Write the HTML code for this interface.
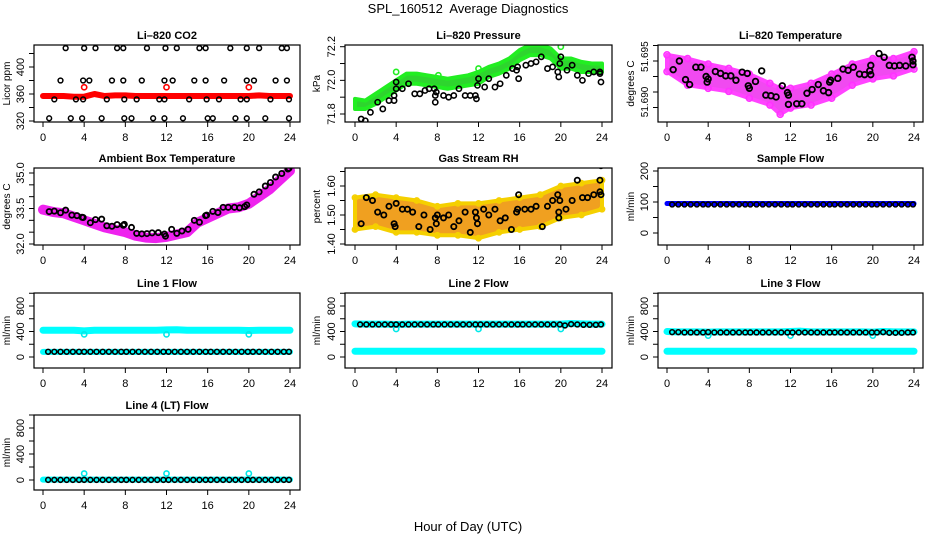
<!DOCTYPE html>
<html><head><meta charset="utf-8">
<style>
html,body{margin:0;padding:0;background:#fff;}
svg{display:block;font-family:"Liberation Sans",sans-serif;}
</style></head>
<body>
<svg id="c" width="936" height="540" viewBox="0 0 936 540" xmlns="http://www.w3.org/2000/svg">
<text x="468" y="13" text-anchor="middle" font-size="13">SPL_160512&#160; Average Diagnostics</text>
<text x="468" y="531" text-anchor="middle" font-size="13">Hour of Day (UTC)</text>
</svg>
<script>
// ---------- data ----------
const xTicks=[0,4,8,12,16,20,24];
// CO2
const co2RedHours=[0,1,2,3,4,5,6,7,8,9,10,11,12,13,14,15,16,17,18,19,20,21,22,23,24];
const co2Red=[357,357,357,356,356,360,357,358,358,357,357,357,357,357,357,357,357,357,357,357,357,358,357,357,357];
const co2RedOutHours=[4,12,20];
const co2RedOut=[370,370,370];
const co2Hours=[2.2,4.0,5.1,7.2,7.8,10.1,11.9,13.0,15.2,15.8,18.2,19.8,21.0,23.2,23.7,
1.7,3.9,4.5,6.7,7.8,9.6,11.8,12.6,14.7,15.8,17.6,19.8,20.5,22.6,23.7,
1.1,3.2,3.9,6.2,7.9,9.1,11.3,11.8,14.2,15.9,17.1,19.2,19.8,22.1,23.9,
0.6,2.7,3.8,5.7,7.9,8.6,10.7,11.8,13.6,16.0,16.5,18.7,19.8,21.6,23.9];
const co2Vals=[428,428,428,428,428,428,428,428,428,428,428,428,428,428,428,
380,380,380,380,380,380,380,380,380,380,380,380,380,380,380,
352,352,352,352,352,352,352,352,352,352,352,352,352,352,352,
324,324,324,324,324,324,324,324,324,324,324,324,324,324,324];
// Pressure
const presBandHours=[0,1,2,3,4,5,6,7,8,9,10,11,12,13,14,15,16,17,18,19,20,21,22,23,24];
const presLo=[71.83,71.83,71.86,71.90,71.94,71.98,71.98,71.97,71.96,71.95,71.96,71.97,71.98,72.02,72.04,72.07,72.12,72.15,72.15,72.13,72.07,72.07,72.05,72.05,72.05];
const presHi=[71.89,71.88,71.92,71.96,72.00,72.04,72.04,72.03,72.02,72.01,72.02,72.03,72.05,72.08,72.10,72.13,72.18,72.21,72.21,72.19,72.13,72.13,72.11,72.10,72.10];
const presOutHours=[4,8.1,12,20];
const presOut=[72.05,72.03,72.07,72.2];
const presHours=[0.6,1.0,1.5,2.2,2.7,3.3,3.8,3.8,4.0,4.0,4.6,5.2,5.8,6.3,6.8,7.2,7.7,7.8,7.8,7.9,8.6,9.1,9.6,10.1,10.7,11.2,11.7,11.8,11.9,12.0,12.6,13.0,13.6,14.1,14.7,15.3,15.7,15.8,15.9,16.6,17.1,17.6,18.1,18.7,19.2,19.7,19.8,19.9,20.0,20.6,21.1,21.6,22.1,22.7,23.2,23.8,23.8,23.9];
const presVals=[71.77,71.76,71.81,71.87,71.83,71.88,71.88,71.91,71.95,71.99,71.95,71.98,71.92,71.92,71.94,71.95,71.95,71.87,71.91,71.93,71.91,71.90,71.91,71.95,71.91,71.91,71.91,71.89,71.97,72.01,71.96,72.01,71.96,71.98,72.03,72.07,72.06,72.08,72.01,72.09,72.10,72.11,72.14,72.07,72.08,72.05,72.02,72.10,72.14,72.06,72.09,72.03,72.00,72.04,72.05,72.04,72.05,71.99];
// Li-820 temperature
const tempBandHours=[0,2,4,6,8,10,11,12,14,16,18,20,22,24];
const tempHi=[51.6960,51.6954,51.6945,51.6938,51.6929,51.6914,51.6906,51.6906,51.6914,51.6929,51.6945,51.6954,51.6954,51.6965];
const tempLo=[51.6933,51.6911,51.6906,51.6901,51.6890,51.6879,51.6864,51.6874,51.6879,51.6890,51.6911,51.6921,51.6926,51.6937];
const tempHours=[0.6,1.2,1.8,2.2,2.8,3.3,3.8,3.9,4.0,4.7,5.2,5.7,6.2,6.7,7.3,7.8,7.9,8.0,8.6,9.2,9.6,10.1,10.6,11.2,11.7,11.8,11.8,12.6,13.1,13.6,14.1,14.7,15.2,15.7,15.8,15.9,16.6,17.1,17.6,18.1,18.7,19.2,19.7,19.8,19.8,20.6,21.1,21.6,22.1,22.6,23.2,23.8,23.9,23.9];
const tempVals=[51.6936,51.6950,51.6920,51.6912,51.6940,51.6940,51.6925,51.6916,51.6921,51.6933,51.6930,51.6926,51.6926,51.6919,51.6932,51.6930,51.6910,51.6906,51.6917,51.6934,51.6895,51.6894,51.6892,51.6910,51.6899,51.6895,51.6880,51.6881,51.6881,51.6898,51.6904,51.6912,51.6902,51.6899,51.6916,51.6919,51.6922,51.6937,51.6935,51.6940,51.6929,51.6928,51.6934,51.6928,51.6943,51.6962,51.6956,51.6943,51.6942,51.6943,51.6942,51.6956,51.6944,51.6950];
// Ambient box temperature
const ambHoursBand=[0,1,2,3,4,5,6,7,8,9,10,11,12,13,14,15,16,17,18,19,20,21,22,23,24];
const ambMid=[33.45,33.35,33.3,33.15,33.0,32.85,32.7,32.6,32.5,32.35,32.27,32.25,32.3,32.4,32.5,32.9,33.1,33.3,33.5,33.55,33.7,34.0,34.3,34.7,35.1];
const ambHours=[0.6,1.1,1.7,2.2,2.8,3.3,3.8,3.9,4.6,5.1,5.7,6.2,6.7,7.2,7.8,7.9,8.6,9.1,9.6,10.1,10.6,11.2,11.8,11.9,12.5,13.0,13.5,14.1,14.7,15.2,15.8,15.9,16.5,17.0,17.5,18.0,18.6,19.1,19.6,19.8,20.5,21.0,21.6,22.1,22.6,23.2,23.8,23.9];
const ambVals=[33.37,33.39,33.32,33.43,33.22,33.2,33.13,33.12,32.9,33.03,33.05,32.77,32.75,32.82,32.79,32.83,32.7,32.45,32.43,32.44,32.47,32.48,32.42,32.33,32.62,32.45,32.55,32.62,33.0,32.92,33.2,33.22,33.38,33.33,33.55,33.55,33.55,33.53,33.58,33.65,34.1,34.2,34.45,34.6,34.83,34.98,35.17,35.2];
// RH
const rhBandHours=[0,2,4,6,8,10,12,14,16,18,20,22,24];
const rhLo=[1.45,1.46,1.44,1.44,1.43,1.43,1.42,1.44,1.45,1.46,1.49,1.50,1.52];
const rhHi=[1.56,1.57,1.56,1.55,1.53,1.54,1.54,1.55,1.56,1.57,1.60,1.61,1.62];
const rhHours=[0.6,1.1,1.7,2.2,2.8,3.3,3.8,3.9,4.0,4.6,5.1,5.6,6.2,6.7,7.3,7.8,7.9,8.0,8.6,9.1,9.6,10.1,10.7,11.2,11.7,11.8,11.9,12.5,13.0,13.6,14.1,14.6,15.2,15.7,15.8,15.9,16.5,17.1,17.6,18.2,18.7,19.2,19.7,19.8,19.8,19.9,20.5,21.1,21.6,22.1,22.6,23.2,23.8,23.8,23.9,23.9];
const rhVals=[1.47,1.56,1.55,1.51,1.50,1.53,1.47,1.46,1.54,1.52,1.52,1.51,1.46,1.50,1.45,1.49,1.47,1.50,1.49,1.50,1.46,1.48,1.51,1.44,1.51,1.49,1.47,1.52,1.50,1.52,1.48,1.49,1.45,1.51,1.52,1.57,1.52,1.52,1.53,1.46,1.53,1.55,1.57,1.51,1.49,1.55,1.52,1.55,1.62,1.56,1.56,1.57,1.62,1.58,1.57,1.67];
// Flows
const flowBandHours=[0,1,2,3,4,5,6,7,8,9,10,11,12,13,14,15,16,17,18,19,20,21,22,23,24];
const sampleBlue=[95,95,95,95,95,95,95,95,95,95,95,95,95,95,95,95,95,95,95,95,95,95,95,95,95];
const l1CyanHi=[420,420,420,420,410,420,420,420,420,420,420,420,425,428,420,420,420,420,420,420,415,420,420,420,420];
const l1CyanLo=[80,80,80,80,80,80,80,80,80,80,80,80,80,80,80,80,80,80,80,80,80,80,80,80,80];
const l2CyanHi=[520,515,515,515,510,515,515,515,515,515,515,515,515,515,515,515,515,515,515,515,515,525,520,515,515];
const l2CyanLo=[90,90,90,90,90,90,90,90,90,90,90,90,90,90,90,90,90,90,90,90,90,90,90,90,90];
const l3CyanHi=[400,395,395,395,390,395,395,395,395,395,395,395,400,405,395,395,395,395,395,395,390,400,395,395,395];
const l3CyanLo=[90,90,90,90,90,90,90,90,90,90,90,90,90,90,90,90,90,90,90,90,90,90,90,90,90];
const l4Cyan=[5,5,5,5,5,5,5,5,5,5,5,5,5,5,5,5,5,5,5,5,5,5,5,5,5];
const dipHours=[4,12,20];
const l1Dips=[355,355,355];
const l2Dips=[440,440,440];
const l3Dips=[335,335,335];
const l4Spikes=[100,100,100];
const flowHours=[0.5,1.1,1.7,2.3,2.9,3.5,4.0,4.6,5.2,5.8,6.4,7.0,7.6,8.1,8.7,9.3,9.9,10.5,11.1,11.7,12.2,12.8,13.4,14.0,14.6,15.2,15.8,16.3,16.9,17.5,18.1,18.7,19.3,19.9,20.4,21.0,21.6,22.2,22.8,23.4,23.9];
const sampleBlack=[92,92,92,92,92,92,92,92,92,92,92,92,92,92,92,92,92,92,92,92,92,92,92,92,92,92,92,92,92,92,92,92,92,92,92,92,92,92,92,92,92];
const l1Black=[82,82,82,82,82,82,82,82,82,82,82,82,82,82,82,82,82,82,82,82,82,82,82,82,82,82,82,82,82,82,82,82,82,82,82,82,82,82,82,82,82];
const l2Black=[510,510,510,510,510,510,510,510,510,510,510,510,510,510,510,510,510,510,510,510,510,510,510,510,510,510,510,510,510,510,510,510,510,510,495,515,510,505,505,505,510];
const l3Black=[390,390,385,385,385,385,390,385,385,385,385,385,385,385,385,385,385,385,385,385,385,385,385,385,385,385,385,385,385,385,385,385,385,385,385,390,380,380,380,385,385];
const l4Black=[2,2,2,2,2,2,2,2,2,2,2,2,2,2,2,2,2,2,2,2,2,2,2,2,2,2,2,2,2,2,2,2,2,2,2,2,2,2,2,2,2];

// ---------- layout ----------
const NS='http://www.w3.org/2000/svg';
const svg=document.getElementById('c');
const COLS=[{x0:43,x1:290,bl:34,br:300,lab:10},{x0:355,x1:602,bl:345,br:612,lab:320},{x0:667,x1:914,bl:658,br:923,lab:634}];
const ROWS=[{t:45,b:122},{t:168,b:245},{t:293,b:368},{t:415,b:490}];
function el(tag,attrs,parent){const e=document.createElementNS(NS,tag);for(const k in attrs)e.setAttribute(k,attrs[k]);(parent||svg).appendChild(e);return e;}
function lin(v1,p1,v2,p2){return v=>p1+(v-v1)*(p2-p1)/(v2-v1);}

function panel(name,ci,ri,title,ylab,ys,yticks,ylabels,lfs){
  const C=COLS[ci],R=ROWS[ri];
  const g=el('g',{});
  
  
  const xs=h=>C.x0+h/24*(C.x1-C.x0);
  const clip=el('clipPath',{id:'cl'+name},g);
  el('rect',{x:C.bl,y:R.t,width:C.br-C.bl,height:R.b-R.t},clip);
  const plot=el('g',{'clip-path':'url(#cl'+name+')'},g);
  
  
  const box=el('rect',{x:C.bl,y:R.t,width:C.br-C.bl,height:R.b-R.t,fill:'none',stroke:'#000','stroke-width':1.2},g);
  
  
  const t=el('text',{x:(C.bl+C.br)/2,y:R.t-6,'text-anchor':'middle','font-size':11,'font-weight':'bold'},g);
  t.textContent=title;
  
  
  const yl=el('text',{x:C.lab,y:(R.t+R.b)/2,'text-anchor':'middle','font-size':10,transform:`rotate(-90 ${C.lab} ${(R.t+R.b)/2})`},g);
  yl.textContent=ylab;
  
  
  xTicks.forEach(h=>{
    const x=xs(h);
    el('line',{x1:x,x2:x,y1:R.b,y2:R.b+5,stroke:'#000'},g);
    const tl=el('text',{x:x,y:R.b+19,'text-anchor':'middle','font-size':11},g);
    tl.textContent=h;
    
    
  });
  yticks.forEach(v=>{const y=ys(v);el('line',{x1:C.bl-5,x2:C.bl,y1:y,y2:y,stroke:'#000'},g);});
  ylabels.forEach(v=>{
    const y=ys(typeof v==='object'?v.v:v),lx=C.bl-10;
    const tl=el('text',{x:lx,y:y,'text-anchor':'middle','font-size':lfs||11,transform:`rotate(-90 ${lx} ${y})`},g);
    tl.textContent=typeof v==='object'?v.t:v;
    
    
  });
  return {g:plot,xs,ys};
}
function pts(P,hours,vals,color,name,r,sw){
  hours.forEach((h,i)=>{
    const c=el('circle',{cx:P.xs(h),cy:P.ys(vals[i]),r:r||2.6,fill:'none',stroke:color,'stroke-width':sw||1.6},P.g);
    
    
  });
}
function band(P,hours,lo,hi,fill,stroke,name){
  let d='M'+hours.map((h,i)=>P.xs(h)+','+P.ys(hi[i])).join('L')+'L'+hours.slice().reverse().map((h,j)=>{const i=hours.length-1-j;return P.xs(h)+','+P.ys(lo[i]);}).join('L')+'Z';
  const p=el('path',{d,fill,stroke,'stroke-width':4,'stroke-linejoin':'round'},P.g);
  
  
}
function thick(P,hours,vals,color,w,name){
  const p=el('polyline',{points:hours.map((h,i)=>P.xs(h)+','+P.ys(vals[i])).join(' '),fill:'none',stroke:color,'stroke-width':w,'stroke-linecap':'round','stroke-linejoin':'round'},P.g);
  
  
}

// CO2
let P=panel('co2',0,0,'Li–820 CO2','Licor ppm',lin(400,67,360,94),[320,340,360,380,400,420],[320,360,400]);
thick(P,co2RedHours,co2Red,'#f00',6,'co2-raw-line');
pts(P,co2RedOutHours,co2RedOut,'#f00','co2-raw-outlier');
pts(P,co2Hours,co2Vals,'#000','co2-average-point',2.4,1.5);
// Pressure
P=panel('pressure',1,0,'Li–820 Pressure','kPa',lin(72.2,46.7,71.8,114),[71.8,71.9,72.0,72.1,72.2],[71.8,{v:72,t:'72.0'},72.2]);
band(P,presBandHours,presLo,presHi,'#2ed52e','#22ee22','pressure-raw-band');
pts(P,presOutHours,presOut,'#22ee22','pressure-raw-outlier');
pts(P,presHours,presVals,'#000','pressure-average-point');
// Temperature
P=panel('temperature',2,0,'Li–820 Temperature','degrees C',lin(51.695,61,51.690,92),[51.6975,51.695,51.6925,51.690,51.6875],[{v:51.6957,t:'51.695'},{v:51.6884,t:'51.690'}],10);
band(P,tempBandHours,tempLo,tempHi,'#f04af0','#ff44ff','temperature-raw-band');
pts(P,tempBandHours,tempHi,'#ff33ff','temperature-raw-point',3,1.6);
pts(P,tempBandHours,tempLo,'#ff33ff','temperature-raw-point',3,1.6);
pts(P,tempHours,tempVals,'#000','temperature-average-point',2.8,1.8);
// Ambient
P=panel('ambient',0,1,'Ambient Box Temperature','degrees C',lin(35,173,32,244),[32,32.5,33,33.5,34,34.5,35],[{v:32,t:'32.0'},{v:33.5,t:'33.5'},{v:35,t:'35.0'}]);
thick(P,ambHoursBand,ambMid,'#ee22ee',10,'ambient-raw-band');
pts(P,ambHours,ambVals,'#000','ambient-average-point',2.6,1.8);
// RH
P=panel('rh',1,1,'Gas Stream RH','percent',lin(1.6,186,1.4,244),[1.40,1.45,1.50,1.55,1.60,1.65],[{v:1.4,t:'1.40'},{v:1.5,t:'1.50'},{v:1.6,t:'1.60'}]);
band(P,rhBandHours,rhLo,rhHi,'#f0a020','#f5d000','rh-raw-band');
pts(P,rhBandHours,rhHi,'#f5d000','rh-raw-point',2.6,1.6);
pts(P,rhBandHours,rhLo,'#f5d000','rh-raw-point',2.6,1.6);
pts(P,rhHours,rhVals,'#000','rh-average-point',2.6,1.8);
// Sample flow
P=panel('sample-flow',2,1,'Sample Flow','ml/min',lin(200,171,0,233),[0,50,100,150,200],[0,100,200]);
thick(P,flowBandHours,sampleBlue,'#0000ff',5,'sample-flow-raw-line');
pts(P,flowHours,sampleBlack,'#000','sample-flow-average-point',2.4,1.6);
// Line 1
const flowTicks=[0,200,400,600,800,1000],flowLabels=[0,400,800];
P=panel('line1-flow',0,2,'Line 1 Flow','ml/min',lin(0,357,800,306),flowTicks,flowLabels);
thick(P,flowBandHours,l1CyanHi,'#00ffff',7,'line1-flow-high-band');
thick(P,flowBandHours,l1CyanLo,'#00ffff',6,'line1-flow-low-band');
pts(P,dipHours,l1Dips,'#00e8e8','line1-flow-dip');
pts(P,flowHours,l1Black,'#000','line1-flow-average-point',2.4,1.6);
// Line 2
P=panel('line2-flow',1,2,'Line 2 Flow','ml/min',lin(0,357,800,306),flowTicks,flowLabels);
thick(P,flowBandHours,l2CyanHi,'#00ffff',7,'line2-flow-high-band');
thick(P,flowBandHours,l2CyanLo,'#00ffff',7,'line2-flow-low-band');
pts(P,dipHours,l2Dips,'#00e8e8','line2-flow-dip');
pts(P,flowHours,l2Black,'#000','line2-flow-average-point',2.4,1.6);
// Line 3
P=panel('line3-flow',2,2,'Line 3 Flow','ml/min',lin(0,357,800,306),flowTicks,flowLabels);
thick(P,flowBandHours,l3CyanHi,'#00ffff',7,'line3-flow-high-band');
thick(P,flowBandHours,l3CyanLo,'#00ffff',7,'line3-flow-low-band');
pts(P,dipHours,l3Dips,'#00e8e8','line3-flow-dip');
pts(P,flowHours,l3Black,'#000','line3-flow-average-point',2.4,1.6);
// Line 4
P=panel('line4-flow',0,3,'Line 4 (LT) Flow','ml/min',lin(0,480,800,428),flowTicks,flowLabels);
thick(P,flowBandHours,l4Cyan,'#00ffff',6,'line4-flow-raw-band');
pts(P,dipHours,l4Spikes,'#00e8e8','line4-flow-spike');
pts(P,flowHours,l4Black,'#000','line4-flow-average-point',2.4,1.6);
</script>
</body></html>
